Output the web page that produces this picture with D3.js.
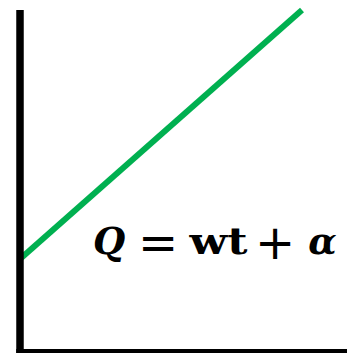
<!DOCTYPE html>
<html>
<head>
<meta charset="utf-8">
<script src="https://cdn.jsdelivr.net/npm/d3@7"></script>
<style>
  html, body { margin: 0; padding: 0; background: #fff; }
  svg { display: block; }
</style>
</head>
<body>
<script>
// Linear relation Q = w·t + α, drawn from its two end points
const tValues = [0, 10];
const qValues = [2.7, 10];

// Equation pieces with their type styles
const eqParts = ["Q", "=", "wt", "+", "α"];
const eqStyles = ["bi", "r", "b", "r", "bi"];

const W = 347, H = 353;
const svg = d3.select("body").append("svg").attr("width", W).attr("height", H);

const x = d3.scaleLinear().domain([0, 10]).range([20, 302]);
const y = d3.scaleLinear().domain([0, 10]).range([351, 10]);

// Line
const line = d3.line().x(d => x(d[0])).y(d => y(d[1]));
svg.append("path")
  .datum(d3.zip(tValues, qValues))
  .attr("d", line)
  .attr("fill", "none")
  .attr("stroke", "#00b050")
  .attr("stroke-width", 6)
  .attr("stroke-linecap", "butt");

// Axes
svg.append("line")
  .attr("x1", x(0)).attr("x2", x(0))
  .attr("y1", y(10)).attr("y2", H + 4)
  .attr("stroke", "#000").attr("stroke-width", 7.5);
svg.append("line")
  .attr("x1", x(0) - 3.75).attr("x2", W + 4)
  .attr("y1", 352.5).attr("y2", 352.5)
  .attr("stroke", "#000").attr("stroke-width", 7);

// Equation label, each piece centred on its slot
const centers = [109, 158, 218.5, 275, 322.5];
const eq = svg.append("g")
  .attr("font-family", "'DejaVu Serif', 'Liberation Serif', serif")
  .attr("fill", "#000");
eq.selectAll("text")
  .data(eqParts)
  .join("text")
  .attr("x", (d, i) => centers[i])
  .attr("y", (d, i) => eqStyles[i] === "r" ? 259 : 254)
  .attr("font-size", (d, i) => eqStyles[i] === "r" ? 48 : 37)
  .attr("font-family", (d, i) => eqStyles[i] === "r" ? "'DejaVu Sans', sans-serif" : null)
  .attr("text-anchor", "middle")
  .attr("font-weight", (d, i) => eqStyles[i].includes("b") ? "bold" : "normal")
  .attr("font-style", (d, i) => eqStyles[i].includes("i") ? "italic" : "normal")
  .attr("textLength", d => d === "wt" ? 58 : null)
  .attr("lengthAdjust", d => d === "wt" ? "spacingAndGlyphs" : null)
  .text(d => d);
</script>
</body>
</html>
